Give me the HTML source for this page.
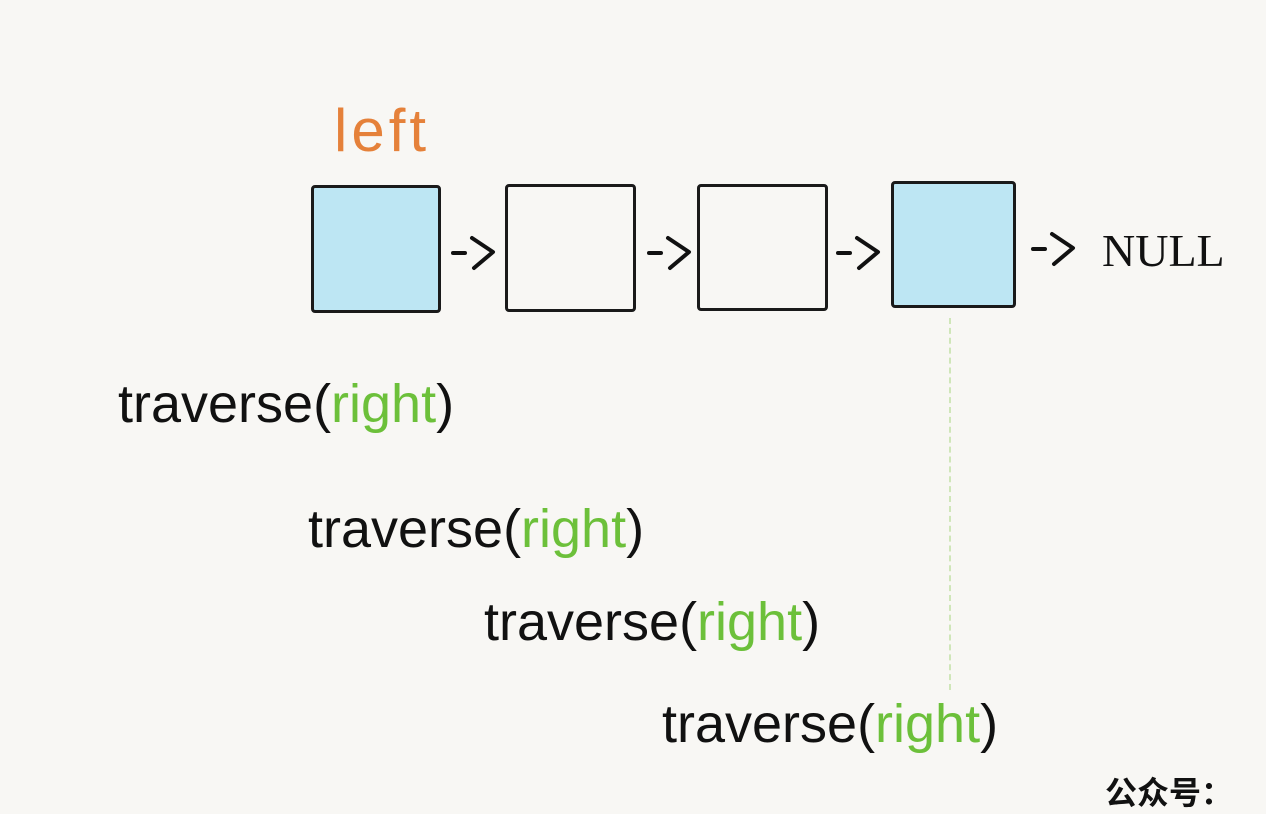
<!DOCTYPE html>
<html><head><meta charset="utf-8"><style>
body{margin:0;width:1266px;height:792px;background:#f8f7f4;position:relative;overflow:hidden;font-family:"Liberation Sans","Noto Sans CJK SC",sans-serif}
.b{position:absolute;border:3px solid #1a1a1a;border-radius:4px;box-sizing:border-box}
.t{position:absolute;font-size:54px;color:#111;white-space:nowrap;letter-spacing:0px}
.g{color:#6cc03a}
svg.a{position:absolute;width:46px;height:40px}
</style></head><body>
<div class="t" style="left:334px;top:96px;color:#e5813a;font-size:60px;letter-spacing:4px">left</div>
<div class="b" style="left:311px;top:185px;width:130px;height:128px;background:#bde6f3"></div>
<div class="b" style="left:505px;top:184px;width:131px;height:128px"></div>
<div class="b" style="left:697px;top:184px;width:131px;height:127px"></div>
<div class="b" style="left:891px;top:181px;width:125px;height:127px;background:#bde6f3"></div>
<svg class="a" style="left:450px;top:232px" viewBox="0 0 46 40"><path d="M3 21H15M22 6L43 20L24 36" stroke="#111" stroke-width="4" fill="none" stroke-linecap="round" stroke-linejoin="round"/></svg>
<svg class="a" style="left:646px;top:232px" viewBox="0 0 46 40"><path d="M3 21H15M22 6L43 20L24 36" stroke="#111" stroke-width="4" fill="none" stroke-linecap="round" stroke-linejoin="round"/></svg>
<svg class="a" style="left:835px;top:232px" viewBox="0 0 46 40"><path d="M3 21H15M22 6L43 20L24 36" stroke="#111" stroke-width="4" fill="none" stroke-linecap="round" stroke-linejoin="round"/></svg>
<svg class="a" style="left:1030px;top:228px" viewBox="0 0 46 40"><path d="M3 21H15M22 6L43 20L24 36" stroke="#111" stroke-width="4" fill="none" stroke-linecap="round" stroke-linejoin="round"/></svg>
<div style="position:absolute;left:1102px;top:224px;font-family:'Liberation Serif',serif;font-size:46px;color:#111">NULL</div>
<div style="position:absolute;left:949px;top:318px;height:372px;border-left:2px dashed #cfe6b8"></div>
<div class="t" style="left:118px;top:373px">traverse(<span class="g">right</span>)</div>
<div class="t" style="left:308px;top:498px">traverse(<span class="g">right</span>)</div>
<div class="t" style="left:484px;top:591px">traverse(<span class="g">right</span>)</div>
<div class="t" style="left:662px;top:693px">traverse(<span class="g">right</span>)</div>
<div style="position:absolute;left:1105px;top:768px;font-size:32px;font-weight:bold;color:#111">公众号：</div>
</body></html>
